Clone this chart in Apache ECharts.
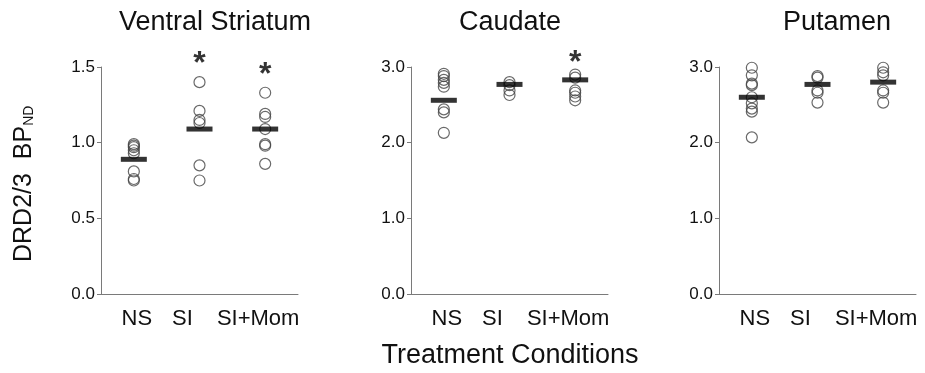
<!DOCTYPE html>
<html>
<head>
<meta charset="utf-8">
<script src="https://cdn.jsdelivr.net/npm/echarts@6/dist/echarts.min.js"></script>
<style>
  html, body { margin: 0; padding: 0; background: #fff; }
  #chart { width: 925px; height: 373px; }
</style>
</head>
<body>
<div id="chart"></div>
<script>
// 分组
const groups = ['NS', 'SI', 'SI+Mom']
const regions = ['Ventral Striatum', 'Caudate', 'Putamen']

// 各脑区的 y 轴
const yMax = [1.5, 3, 3]
const yStep = [0.5, 1, 1]

// 单个动物的点 (NS, SI, SI+Mom)
const vsPoints = [
  [0.99, 0.98, 0.97, 0.95, 0.93, 0.81, 0.76, 0.75],
  [1.40, 1.21, 1.15, 1.13, 0.85, 0.75],
  [1.33, 1.19, 1.17, 1.09, 0.99, 0.98, 0.86]
]
const caudatePoints = [
  [2.91, 2.88, 2.83, 2.79, 2.74, 2.44, 2.40, 2.13],
  [2.80, 2.76, 2.69, 2.63],
  [2.90, 2.86, 2.69, 2.66, 2.61, 2.56]
]
const putamenPoints = [
  [2.99, 2.89, 2.78, 2.76, 2.60, 2.52, 2.45, 2.41, 2.07],
  [2.88, 2.86, 2.69, 2.66, 2.53],
  [2.99, 2.93, 2.89, 2.69, 2.66, 2.53]
]

// 均值线
const vsMeans = [0.89, 1.09, 1.09]
const caudateMeans = [2.56, 2.77, 2.83]
const putamenMeans = [2.60, 2.77, 2.80]

// 显著性星号 (组序号, 高度)
const vsStars = [[1, 1.57], [2, 1.50]]
const caudateStars = [[2, 3.16]]
const putamenStars = []

const allPoints = [vsPoints, caudatePoints, putamenPoints]
const allMeans = [vsMeans, caudateMeans, putamenMeans]
const allStars = [vsStars, caudateStars, putamenStars]

const lefts = [101, 411, 719]
const axisColor = '#7a7a7a'
const font = 'Liberation Sans, Arial, sans-serif'

const myChart = echarts.init(document.getElementById('chart'))

const grid = []
const xAxis = []
const yAxis = []
const series = []
const title = []

for (let i = 0; i < 3; i++) {
  grid.push({ left: lefts[i], width: 197, top: 67, bottom: 79 })

  title.push({
    text: regions[i],
    left: lefts[i] + 98 + (i === 0 ? 11 : i === 2 ? 15 : -4),
    top: 4,
    textAlign: 'center',
    textStyle: { fontFamily: font, fontSize: 27, fontWeight: 'normal', color: '#111' }
  })

  xAxis.push({
    type: 'category',
    gridIndex: i,
    data: groups,
    boundaryGap: true,
    axisLine: { lineStyle: { color: axisColor, width: 1 } },
    axisTick: { show: false },
    axisLabel: {
      interval: 0,
      hideOverlap: false,
      color: '#111',
      fontFamily: font,
      fontSize: 22,
      margin: 14,
      // 标签不完全居中
      formatter(v, idx) {
        return '{g' + idx + '|' + v + '}'
      },
      rich: {
        g0: { fontFamily: font, fontSize: 22, color: '#111', padding: [0, 0, 0, 6] },
        g1: { fontFamily: font, fontSize: 22, color: '#111', padding: [0, 34, 0, 0] },
        g2: { fontFamily: font, fontSize: 22, color: '#111', padding: [0, 14, 0, 0] }
      }
    }
  })

  yAxis.push({
    type: 'value',
    gridIndex: i,
    min: 0,
    max: yMax[i],
    interval: yStep[i],
    splitLine: { show: false },
    axisLine: { show: true, lineStyle: { color: axisColor, width: 1 } },
    axisTick: { show: true, length: 4, lineStyle: { color: axisColor } },
    axisLabel: {
      color: '#111',
      fontFamily: font,
      fontSize: 17,
      margin: 6,
      formatter: (v) => v.toFixed(1)
    }
  })

  // 个体点
  const pts = []
  allPoints[i].forEach((arr, g) => {
    arr.forEach((v) => pts.push([g, v]))
  })
  series.push({
    type: 'scatter',
    xAxisIndex: i,
    yAxisIndex: i,
    symbol: 'circle',
    symbolSize: 11,
    itemStyle: { color: 'rgba(255,255,255,0)', borderColor: '#444', borderWidth: 1.2 },
    data: pts,
    z: 2
  })

  // 均值
  series.push({
    type: 'scatter',
    xAxisIndex: i,
    yAxisIndex: i,
    symbol: 'rect',
    symbolSize: [26, 5],
    itemStyle: { color: '#000' },
    data: allMeans[i].map((v, g) => [g, v]),
    z: 3
  })

  // 星号
  if (allStars[i].length) {
    series.push({
      type: 'scatter',
      xAxisIndex: i,
      yAxisIndex: i,
      clip: false,
      symbol: 'circle',
      symbolSize: 1,
      itemStyle: { color: 'rgba(0,0,0,0)' },
      label: {
        show: true,
        position: 'inside',
        formatter: '*',
        fontFamily: font,
        fontSize: 32,
        fontWeight: 'bold',
        color: '#000',
        offset: [0, 8]
      },
      data: allStars[i],
      z: 4
    })
  }
}

const option = {
  animation: false,
  backgroundColor: '#fff',
  title,
  grid,
  xAxis,
  yAxis,
  series,
  graphic: [
    {
      type: 'text',
      x: 510,
      y: 342,
      style: {
        text: 'Treatment Conditions',
        fontFamily: font,
        fontSize: 27,
        fill: '#111',
        textAlign: 'center'
      }
    },
    {
      type: 'text',
      x: 12,
      y: 262,
      rotation: Math.PI / 2,
      style: {
        text: '{a|DRD2/3  BP}{b|ND}',
        rich: {
          a: { fontFamily: font, fontSize: 25, fill: '#111' },
          b: { fontFamily: font, fontSize: 14, fill: '#111', padding: [10, 0, 0, 0] }
        }
      }
    }
  ]
}

myChart.setOption(option)

window.addEventListener('resize', () => {
  myChart.resize()
})
</script>
</body>
</html>
